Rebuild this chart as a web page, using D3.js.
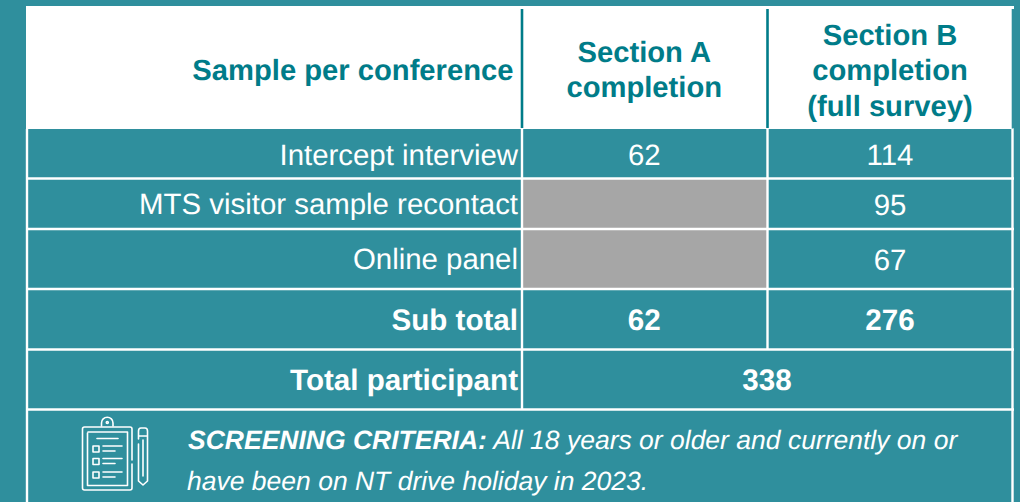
<!DOCTYPE html>
<html><head><meta charset="utf-8">
<script src="https://cdn.jsdelivr.net/npm/d3@7"></script>
<style>html,body{margin:0;padding:0;background:#2f8f9d;overflow:hidden}text{font-family:"Liberation Sans",Arial,sans-serif;text-rendering:geometricPrecision}</style>
</head><body><svg id="c" width="1020" height="502"></svg>
<script>
const headerCorner = "Sample per conference";
const headerA = ["Section A", "completion"];
const headerB = ["Section B", "completion", "(full survey)"];
const rowLabels = ["Intercept interview", "MTS visitor sample recontact", "Online panel", "Sub total"];
const sectionA = [62, null, null, 62];
const sectionB = [114, 95, 67, 276];
const totalLabel = "Total participant";
const totalValue = 338;
const noteBold = "SCREENING CRITERIA:";
const noteLines = [" All 18 years or older and currently on or", "have been on NT drive holiday in 2023."];

const TEAL="#2f8f9d", DARK="#007c89", GREY="#a6a6a6", W="#fff";
const svg=d3.select("#c");
const xEdge=[27,522,767.5,1012.5];
const yEdge=[129,178.5,229,289,349.5,409.5];
const rect=(x,y,w,h,f)=>svg.append("rect").attr("x",x).attr("y",y).attr("width",w).attr("height",h).attr("fill",f);
const line=(x1,y1,x2,y2,s,sw)=>svg.append("line").attr("x1",x1).attr("y1",y1).attr("x2",x2).attr("y2",y2).attr("stroke",s).attr("stroke-width",sw);
const txt=(x,y,t,size,fill,anchor,bold,it)=>svg.append("text").attr("x",x).attr("y",y).attr("text-anchor",anchor||"middle").attr("font-size",size).attr("fill",fill).attr("font-weight",bold?"bold":"normal").attr("font-style",it?"italic":"normal").text(t);

// header
rect(26,6,988,123,W);
line(xEdge[1],9,xEdge[1],128,DARK,2.6);
line(xEdge[2],9,xEdge[2],128,DARK,2.6);
rect(1011.7,9,3,119.5,TEAL);
const hs=29.2;
txt(513.5,79.5,headerCorner,hs,DARK,"end",true);
const cA=(xEdge[1]+xEdge[2])/2-0.5, cB=(xEdge[2]+xEdge[3])/2;
headerA.forEach((t,i)=>txt(cA,62+i*35,t,hs,DARK,"middle",true));
headerB.forEach((t,i)=>txt(cB,44.5+i*35.5,t,hs,DARK,"middle",true));

// grey cells
sectionA.forEach((v,i)=>{ if(v===null) rect(xEdge[1],yEdge[i],xEdge[2]-xEdge[1],yEdge[i+1]-yEdge[i],GREY); });

// grid
const lw=2.4;
line(xEdge[0],129,xEdge[0],502,W,lw);
line(xEdge[1],129,xEdge[1],409.5,W,lw);
line(xEdge[2],129,xEdge[2],349.5,W,lw);
line(xEdge[3],129,xEdge[3],502,W,lw);
yEdge.slice(1).forEach(y=>line(26,y,1014,y,W,lw));

// rows
const fs=29.4, fsBold=29.6;
const base=[165,214,269,329.5];
rowLabels.forEach((t,i)=>{
  const b=i===3, s=b?fsBold:fs;
  txt(518,base[i],t,s,W,"end",b);
  if(sectionA[i]!==null) txt(cA,base[i],sectionA[i],s,W,"middle",b);
  txt(cB,base[i]+(i===1||i===2?1:0),sectionB[i],s,W,"middle",b);
});
txt(518,389.5,totalLabel,fsBold,W,"end",true);
txt(767,390,totalValue,fsBold,W,"middle",true);

// note
const n1=svg.append("text").attr("x",188).attr("y",449).attr("font-size",26.5).attr("font-style","italic").attr("fill",W);
n1.append("tspan").attr("font-weight","bold").text(noteBold);
n1.append("tspan").text(noteLines[0]);
txt(187,490,noteLines[1],26.5,W,"start",false,true);

// icon
const g=svg.append("g").attr("fill","none").attr("stroke",W).attr("stroke-width",1.6).attr("stroke-linecap","round").attr("stroke-linejoin","round");
g.append("path").attr("d","M132 460 V429 Q132 427 130 427 H84.5 Q82.5 427 82.5 429 V488 Q82.5 490 84.5 490 H130 Q132 490 132 488 V464");
g.append("path").attr("d","M87.5 433 V485.5 H127.5 V432 H88");
g.append("path").attr("d","M101.5 426 V423 A5.5 5.5 0 0 1 113 423 V426");
g.append("circle").attr("cx",107.3).attr("cy",422.5).attr("r",1);
g.append("path").attr("d","M97 438.5 H118");
[449,461.5,475].forEach(y=>{
  g.append("rect").attr("x",93).attr("y",y-3).attr("width",6).attr("height",6);
  g.append("path").attr("d",`M103 ${y-3} H122 M103 ${y+2} H115`);
});
g.append("path").attr("d","M138.5 439 V431 Q138.5 428 141 428 H145 Q147.5 428 147.5 431 V481 L143 485 L138.5 481 V444 M138.5 436 H147.5 M143 440 V476");
</script></body></html>
